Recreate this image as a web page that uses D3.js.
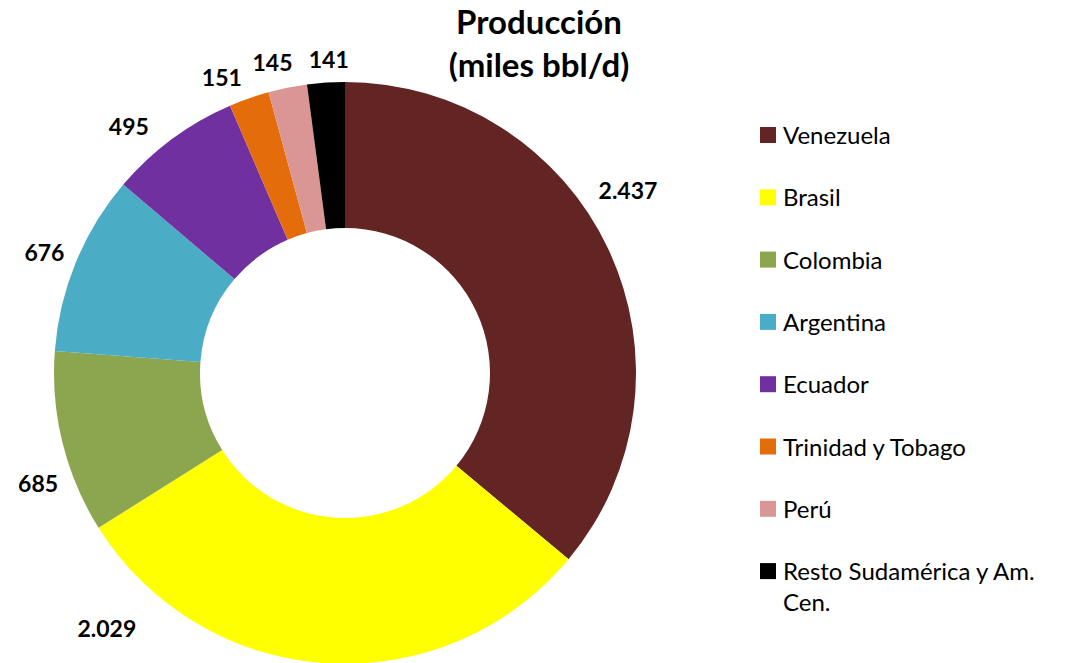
<!DOCTYPE html>
<html>
<head>
<meta charset="utf-8">
<script src="https://cdn.jsdelivr.net/npm/d3@7/dist/d3.min.js"></script>
<style>
  html, body { margin: 0; padding: 0; background: #fff; }
  svg { display: block; }
</style>
</head>
<body>
<svg id="chart" width="1073" height="663"></svg>
<script>
// Oil production by country (thousand barrels per day)
const countries = ["Venezuela", "Brasil", "Colombia", "Argentina", "Ecuador", "Trinidad y Tobago", "Perú", "Resto Sudamérica y Am. Cen."];
const production = [2437, 2029, 685, 676, 495, 151, 145, 141];
const valueLabels = ["2.437", "2.029", "685", "676", "495", "151", "145", "141"];
const colors = ["#632523", "#FFFF00", "#8BA64E", "#4BACC6", "#7030A0", "#E46C0A", "#D99694", "#000000"];
const titleLines = ["Producción", "(miles bbl/d)"];

const W = 1073, H = 663;
const cx = 345, cy = 373;
const outerR = 291, innerR = 145;
const font = "Lato, 'Open Sans', sans-serif";

const svg = d3.select("#chart");

const data = countries.map((c, i) => ({ country: c, value: production[i], label: valueLabels[i], color: colors[i] }));

const pie = d3.pie().sort(null).value(d => d.value);
const arcs = pie(data);
const arc = d3.arc().innerRadius(innerR).outerRadius(outerR);

const g = svg.append("g").attr("transform", `translate(${cx},${cy})`);

g.selectAll("path.slice")
  .data(arcs)
  .join("path")
  .attr("class", "slice")
  .attr("d", arc)
  .attr("fill", d => d.data.color);

// Value labels placed outside the ring; the two large slices have their
// labels moved along the rim so they sit clear of the legend and title.
const angleNudge = [-0.16, 0.66, -0.11, 0, -0.07, -0.05, -0.025, 0.015];
const gapNudge = [22, 38, 16, 14, 22, 16, 16, 11];
const labels = g.selectAll("text.val")
  .data(arcs)
  .join("text")
  .attr("class", "val")
  .attr("font-family", font)
  .attr("font-weight", "bold")
  .attr("font-size", 23)
  .attr("fill", "#000")
  .attr("text-anchor", "middle")
  .attr("dominant-baseline", "central")
  .text(d => d.data.label);

labels.each(function (d, i) {
  const a = (d.startAngle + d.endAngle) / 2 + angleNudge[i];
  const bb = this.getBBox();
  const r = outerR + gapNudge[i];
  const sx = Math.sin(a), sy = -Math.cos(a);
  const x = r * sx + (bb.width / 2) * sx;
  const y = r * sy + (bb.height / 2 - 2) * sy;
  d3.select(this).attr("x", x).attr("y", y);
});

// Title
svg.append("g")
  .selectAll("text")
  .data(titleLines)
  .join("text")
  .attr("x", 539)
  .attr("y", (d, i) => 34 + i * 43)
  .attr("text-anchor", "middle")
  .attr("font-family", font)
  .attr("font-weight", "bold")
  .attr("font-size", 33)
  .attr("fill", "#000")
  .text(d => d);

// Legend
const legend = svg.append("g").attr("transform", "translate(760,127)");
const rows = legend.selectAll("g.item")
  .data(data)
  .join("g")
  .attr("class", "item")
  .attr("transform", (d, i) => `translate(0,${i * 62.3})`);

rows.append("rect")
  .attr("width", 16)
  .attr("height", 16)
  .attr("fill", d => d.color);

rows.append("text")
  .attr("x", 23)
  .attr("y", 17)
  .attr("font-family", font)
  .attr("font-size", 24)
  .attr("fill", "#000")
  .each(function (d) {
    const t = d3.select(this);
    const words = d.country.split(" ");
    const maxW = 285;
    let line = [];
    let tspan = t.append("tspan").attr("x", 23).attr("dy", 0);
    words.forEach(w => {
      line.push(w);
      tspan.text(line.join(" "));
      if (tspan.node().getComputedTextLength() > maxW && line.length > 1) {
        line.pop();
        tspan.text(line.join(" "));
        line = [w];
        tspan = t.append("tspan").attr("x", 23).attr("dy", 31).text(w);
      }
    });
  });
</script>
</body>
</html>
